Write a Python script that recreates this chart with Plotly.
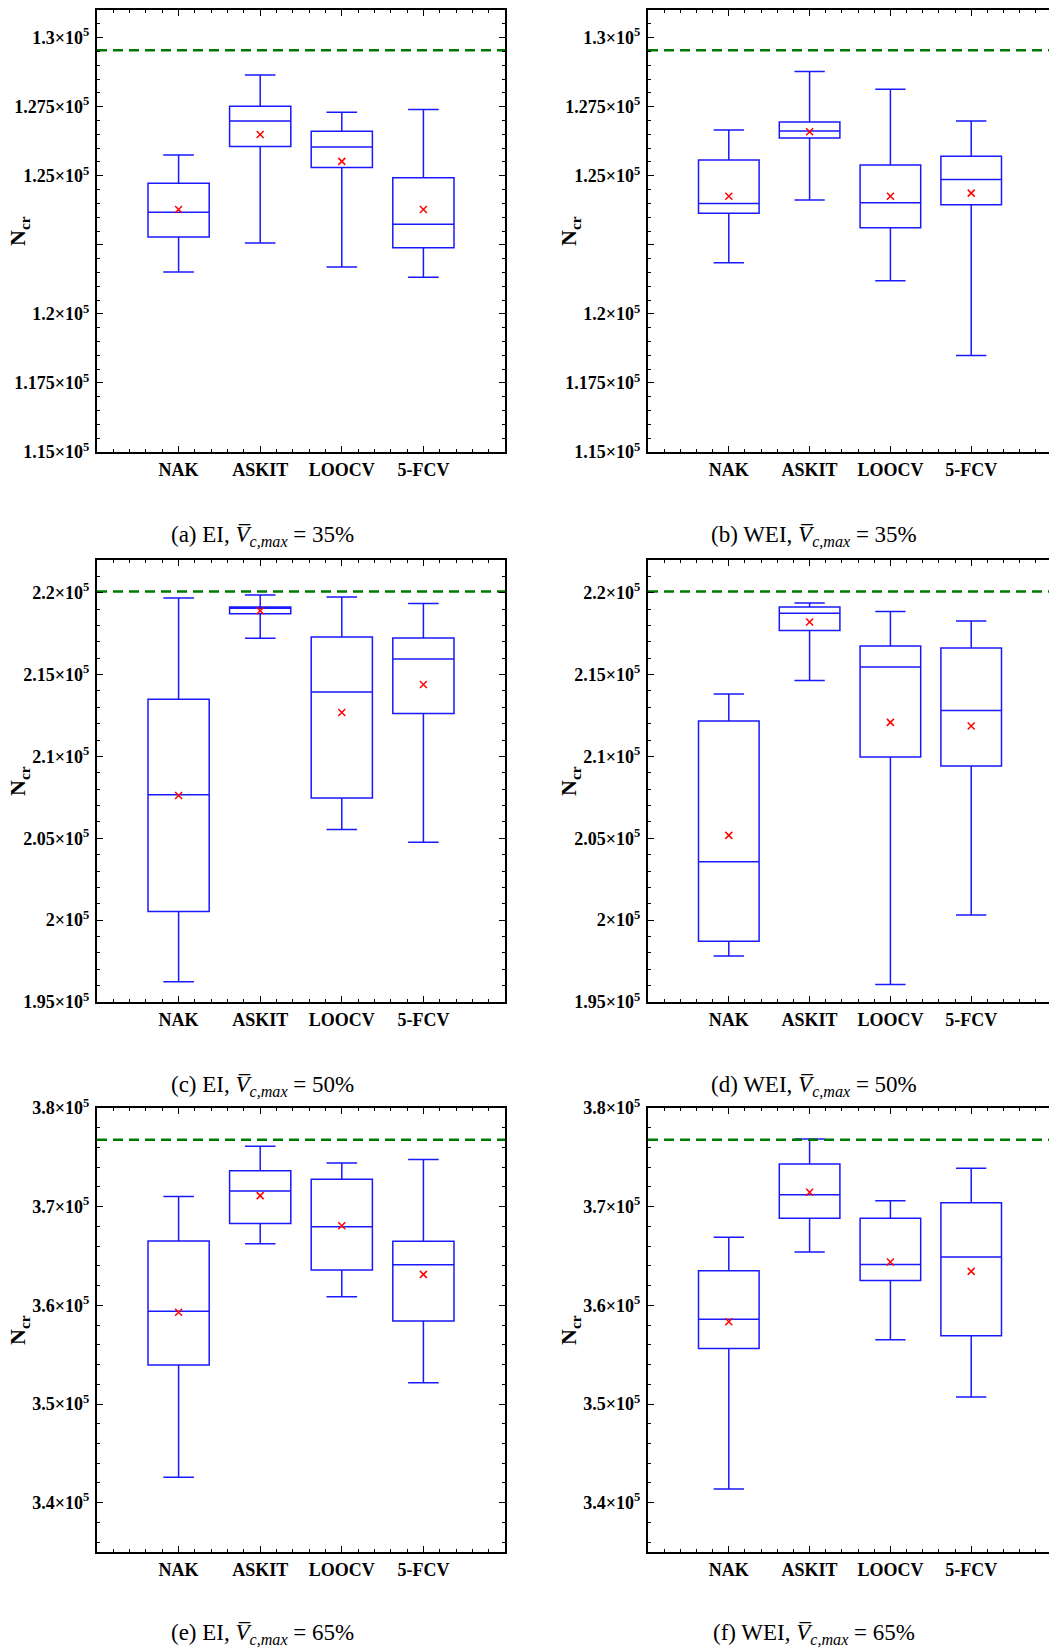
import plotly.graph_objects as go
from plotly.subplots import make_subplots

categories = ["NAK", "ASKIT", "LOOCV", "5-FCV"]
positions = [1, 2, 3, 4]

# (a) EI, Vc,max = 35%
a_lo = [121520, 122570, 121700, 121330]
a_q1 = [122780, 126060, 125300, 122390]
a_med = [123680, 126980, 126040, 123240]
a_q3 = [124730, 127520, 126610, 124930]
a_hi = [125750, 128650, 127300, 127400]
a_mean = [123780, 126490, 125520, 123780]

# (b) WEI, Vc,max = 35%
b_lo = [121850, 124120, 121200, 118490]
b_q1 = [123640, 126370, 123120, 123950]
b_med = [124000, 126620, 124020, 124860]
b_q3 = [125570, 126950, 125390, 125710]
b_hi = [126660, 128770, 128130, 126980]
b_mean = [124260, 126590, 124260, 124370]

# (c) EI, Vc,max = 50%
c_lo = [196230, 217220, 205530, 204760]
c_q1 = [200530, 218720, 207460, 212630]
c_med = [207660, 219050, 213930, 215960]
c_q3 = [213500, 219130, 217300, 217240]
c_hi = [219680, 219860, 219740, 219350]
c_mean = [207620, 218900, 212690, 214400]

# (d) WEI, Vc,max = 50%
d_lo = [197810, 214640, 196070, 200310]
d_q1 = [198710, 217690, 209970, 209420]
d_med = [203560, 218740, 215470, 212810]
d_q3 = [212160, 219130, 216750, 216630]
d_hi = [213810, 219370, 218860, 218280]
d_mean = [205180, 218210, 212080, 211860]

# (e) EI, Vc,max = 65%
e_lo = [342580, 366230, 360860, 352160]
e_q1 = [353960, 368300, 363580, 358410]
e_med = [359400, 371600, 367960, 364120]
e_q3 = [366530, 373640, 372790, 366500]
e_hi = [371020, 376120, 374420, 374790]
e_mean = [359300, 371120, 368060, 363140]

# (f) WEI, Vc,max = 65%
f_lo = [341390, 365400, 356510, 350700]
f_q1 = [355620, 368820, 362510, 356910]
f_med = [358580, 371210, 364150, 364900]
f_q3 = [363510, 374320, 368820, 370390]
f_hi = [366900, 376850, 370610, 373890]
f_mean = [358330, 371460, 364400, 363440]

# reference level (dashed line) per row
ref_level = [129540, 220080, 376780]

# y-axis ticks per row
row_ranges = [[115000, 131000], [195000, 222000], [335000, 380000]]
row_tickvals = [
    [115000, 117500, 120000, 122500, 125000, 127500, 130000],
    [195000, 200000, 205000, 210000, 215000, 220000],
    [340000, 350000, 360000, 370000, 380000],
]
row_ticktext = [
    ["1.15×10<sup>5</sup>", "1.175×10<sup>5</sup>", "1.2×10<sup>5</sup>", "",
     "1.25×10<sup>5</sup>", "1.275×10<sup>5</sup>", "1.3×10<sup>5</sup>"],
    ["1.95×10<sup>5</sup>", "2×10<sup>5</sup>", "2.05×10<sup>5</sup>", "2.1×10<sup>5</sup>",
     "2.15×10<sup>5</sup>", "2.2×10<sup>5</sup>"],
    ["3.4×10<sup>5</sup>", "3.5×10<sup>5</sup>", "3.6×10<sup>5</sup>", "3.7×10<sup>5</sup>",
     "3.8×10<sup>5</sup>"],
]
row_minor = [500, 1000, 2000]

captions = [
    "(a) EI, <i>V̅</i><sub><i>c,max</i></sub> = 35%",
    "(b) WEI, <i>V̅</i><sub><i>c,max</i></sub> = 35%",
    "(c) EI, <i>V̅</i><sub><i>c,max</i></sub> = 50%",
    "(d) WEI, <i>V̅</i><sub><i>c,max</i></sub> = 50%",
    "(e) EI, <i>V̅</i><sub><i>c,max</i></sub> = 65%",
    "(f) WEI, <i>V̅</i><sub><i>c,max</i></sub> = 65%",
]

panels = [
    (a_lo, a_q1, a_med, a_q3, a_hi, a_mean),
    (b_lo, b_q1, b_med, b_q3, b_hi, b_mean),
    (c_lo, c_q1, c_med, c_q3, c_hi, c_mean),
    (d_lo, d_q1, d_med, d_q3, d_hi, d_mean),
    (e_lo, e_q1, e_med, e_q3, e_hi, e_mean),
    (f_lo, f_q1, f_med, f_q3, f_hi, f_mean),
]


def bold(labels):
    return [f"<b>{t}</b>" if t else "" for t in labels]


W, H = 1049, 1648
BOX_BLUE = "rgb(25,25,255)"
FONT = "Liberation Serif"

fig = make_subplots(rows=3, cols=2)

# pixel layout of the plot areas
col_x = [(97, 505), (648, 1049)]
col_xmax = [5.0, 5.0 * (1049 - 648) / (1052 - 648)]
row_y = [(10, 452), (560, 1002), (1108, 1552)]
caption_x = [262, 814]
caption_y = [536, 1086, 1634]
title_x = [19, 570]

for i, (lo, q1, med, q3, hi, mean) in enumerate(panels):
    r, c = i // 2, i % 2
    row, col = r + 1, c + 1
    fig.add_trace(go.Box(
        x=positions, lowerfence=lo, q1=q1, median=med, q3=q3, upperfence=hi,
        width=0.75, whiskerwidth=0.5, boxpoints=False,
        line=dict(color=BOX_BLUE, width=1.5), fillcolor="rgba(0,0,0,0)",
        showlegend=False, hoverinfo="skip",
    ), row=row, col=col)
    fig.add_trace(go.Scatter(
        x=positions, y=mean, mode="markers",
        marker=dict(symbol="x-thin", size=7, color="red",
                    line=dict(color="red", width=1.5)),
        showlegend=False, hoverinfo="skip",
    ), row=row, col=col)
    fig.add_trace(go.Scatter(
        x=[0, col_xmax[c]], y=[ref_level[r], ref_level[r]], mode="lines",
        line=dict(color="rgb(0,120,0)", width=2.5, dash="10px,6px"),
        showlegend=False, hoverinfo="skip",
    ), row=row, col=col)

    x0, x1 = col_x[c]
    y0, y1 = row_y[r]
    fig.update_xaxes(
        domain=[x0 / W, x1 / W], range=[0, col_xmax[c]], automargin=False,
        tickmode="array", tickvals=positions, ticktext=bold(categories),
        ticks="inside", ticklen=6, tickwidth=1, tickcolor="black",
        showline=True, linecolor="black", linewidth=2, mirror="allticks",
        showgrid=False, zeroline=False, ticklabelstandoff=0,
        tickfont=dict(family=FONT, size=18, color="black"),
        minor=dict(tickmode="linear", tick0=0, dtick=0.2, ticks="inside",
                   ticklen=3, tickcolor="black", showgrid=False),
        row=row, col=col,
    )
    fig.update_yaxes(
        domain=[1 - y1 / H, 1 - y0 / H], range=row_ranges[r], automargin=False,
        tickmode="array", tickvals=row_tickvals[r], ticktext=bold(row_ticktext[r]),
        ticks="inside", ticklen=6, tickwidth=1, tickcolor="black",
        showline=True, linecolor="black", linewidth=2,
        mirror="allticks" if c == 0 else False,
        showgrid=False, zeroline=False, ticklabelstandoff=2,
        tickfont=dict(family=FONT, size=18, color="black"),
        minor=dict(tickmode="linear", tick0=0, dtick=row_minor[r], ticks="inside",
                   ticklen=3, tickcolor="black", showgrid=False),
        row=row, col=col,
    )

    fig.add_annotation(
        x=title_x[c] / W, y=1 - (y0 + y1) / 2 / H, xref="paper", yref="paper",
        text="<b>N<sub>cr</sub></b>", textangle=-90, showarrow=False,
        xanchor="center", yanchor="middle",
        font=dict(family=FONT, size=22, color="black"),
    )
    fig.add_annotation(
        x=caption_x[c] / W, y=1 - caption_y[r] / H, xref="paper", yref="paper",
        text=captions[i], showarrow=False, xanchor="center", yanchor="middle",
        font=dict(family=FONT, size=23, color="black"),
    )

fig.update_layout(
    width=W, height=H, margin=dict(l=0, r=0, t=0, b=0, autoexpand=False),
    paper_bgcolor="white", plot_bgcolor="white",
)

fig.write_html("out.html")
